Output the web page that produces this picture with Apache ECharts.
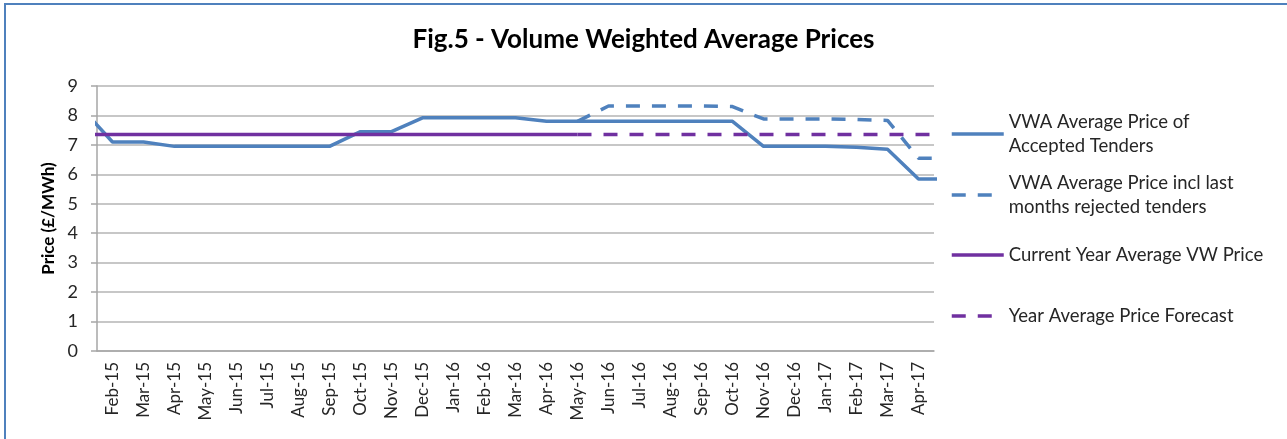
<!DOCTYPE html>
<html>
<head>
<meta charset="utf-8">
<script src="https://cdn.jsdelivr.net/npm/echarts@6/dist/echarts.min.js"></script>
<style>
  html, body { margin: 0; padding: 0; background: #fff; overflow: hidden; }
  #frame { position: absolute; left: 4px; top: 3px; width: 2000px; height: 1000px;
           border-top: 2px solid #4F81BD; border-left: 2px solid #4F81BD; }
  #chart { position: absolute; left: 0; top: 0; width: 1287px; height: 439px; }
</style>
</head>
<body>
<div id="frame"></div>
<div id="chart"></div>
<script>
  // months (first and last sit just outside the visible axis, the lines run to the edges)
  const months = ['Jan-15', 'Feb-15', 'Mar-15', 'Apr-15', 'May-15', 'Jun-15', 'Jul-15', 'Aug-15', 'Sep-15',
    'Oct-15', 'Nov-15', 'Dec-15', 'Jan-16', 'Feb-16', 'Mar-16', 'Apr-16', 'May-16', 'Jun-16', 'Jul-16',
    'Aug-16', 'Sep-16', 'Oct-16', 'Nov-16', 'Dec-16', 'Jan-17', 'Feb-17', 'Mar-17', 'Apr-17', 'May-17'];

  const accepted = [8.25, 7.1, 7.1, 6.95, 6.95, 6.95, 6.95, 6.95, 6.95, 7.45, 7.45, 7.92, 7.92, 7.92, 7.92,
    7.8, 7.8, 7.8, 7.8, 7.8, 7.8, 7.8, 6.95, 6.95, 6.95, 6.92, 6.85, 5.84, 5.84];

  const inclRejected = [null, null, null, null, null, null, null, null, null, null, null, null, null, null, null,
    null, 7.8, 8.32, 8.32, 8.32, 8.32, 8.3, 7.88, 7.88, 7.88, 7.86, 7.83, 6.55, 6.55];

  const yearAvg = [7.35, 7.35, 7.35, 7.35, 7.35, 7.35, 7.35, 7.35, 7.35, 7.35, 7.35, 7.35, 7.35, 7.35, 7.35,
    7.35, 7.35, null, null, null, null, null, null, null, null, null, null, null, null];

  const yearForecast = [null, null, null, null, null, null, null, null, null, null, null, null, null, null, null,
    null, 7.35, 7.35, 7.35, 7.35, 7.35, 7.35, 7.35, 7.35, 7.35, 7.35, 7.35, 7.35, 7.35];

  const names = ['VWA Average Price of Accepted Tenders', 'VWA Average Price incl last months rejected tenders',
    'Current Year Average VW Price', 'Year Average Price Forecast'];
  const legendText = ['VWA Average Price of\nAccepted Tenders', 'VWA Average Price incl last\nmonths rejected tenders',
    'Current Year Average VW Price', 'Year Average Price Forecast'];

  const BLUE = '#4F81BD';
  const PURPLE = '#7030A0';
  const FONT = 'Lato';
  const DASH = [14, 12];

  const chart = echarts.init(document.getElementById('chart'));

  // one legend per entry so each can sit at its own height
  const legendTops = [98, 159, 243, 304];
  const legends = names.map((n, i) => ({
    data: [n],
    orient: 'vertical',
    left: 950,
    top: legendTops[i],
    padding: 0,
    itemWidth: 52,
    itemHeight: 12,
    selectedMode: false,
    formatter: () => legendText[i],
    itemStyle: { opacity: 0 },
    lineStyle: { width: 3.5, type: (i % 2 === 1) ? DASH : 'solid', cap: 'butt' },
    textStyle: {
      fontFamily: FONT, fontSize: 18.5, color: '#262626', lineHeight: 24,
      padding: i < 2 ? [24, 0, 0, 0] : 0
    }
  }));

  const lineSeries = (name, data, color, dashed) => ({
    name: name,
    type: 'line',
    data: data,
    symbol: 'none',
    connectNulls: false,
    animation: false,
    lineStyle: { color: color, width: 3.5, type: dashed ? DASH : 'solid', cap: 'butt' },
    itemStyle: { color: color }
  });

  chart.setOption({
    backgroundColor: 'transparent',
    title: {
      text: 'Fig.5 - Volume Weighted Average Prices',
      left: 'center',
      top: 22,
      textStyle: { fontFamily: FONT, fontSize: 26, fontWeight: 'bold', color: '#000' }
    },
    legend: legends,
    grid: { left: 97, right: 353, top: 86, bottom: 88 },
    xAxis: {
      type: 'category',
      data: months,
      min: 1,
      max: 27,
      boundaryGap: true,
      axisLine: { lineStyle: { color: '#A6A6A6', width: 1.5 } },
      axisTick: { length: 5, lineStyle: { color: '#A6A6A6', width: 1.5 } },
      axisLabel: { interval: 0, rotate: 90, margin: 11, fontFamily: FONT, fontSize: 17, color: '#262626' },
      splitLine: { show: false }
    },
    yAxis: {
      type: 'value',
      min: 0,
      max: 9,
      interval: 1,
      name: 'Price (£/MWh)',
      nameLocation: 'middle',
      nameRotate: 90,
      nameGap: 40,
      nameTextStyle: { fontFamily: FONT, fontSize: 17, fontWeight: 'bold', color: '#000' },
      axisLine: { show: true, lineStyle: { color: '#A6A6A6', width: 1.5 } },
      axisTick: { show: true, length: 6, lineStyle: { color: '#A6A6A6', width: 1.5 } },
      axisLabel: { margin: 19, fontFamily: FONT, fontSize: 18, color: '#262626' },
      splitLine: { lineStyle: { color: '#B5B5B5', width: 1.5 } }
    },
    series: [
      lineSeries(names[0], accepted, BLUE, false),
      lineSeries(names[1], inclRejected, BLUE, true),
      lineSeries(names[2], yearAvg, PURPLE, false),
      lineSeries(names[3], yearForecast, PURPLE, true)
    ]
  });
</script>
</body>
</html>
